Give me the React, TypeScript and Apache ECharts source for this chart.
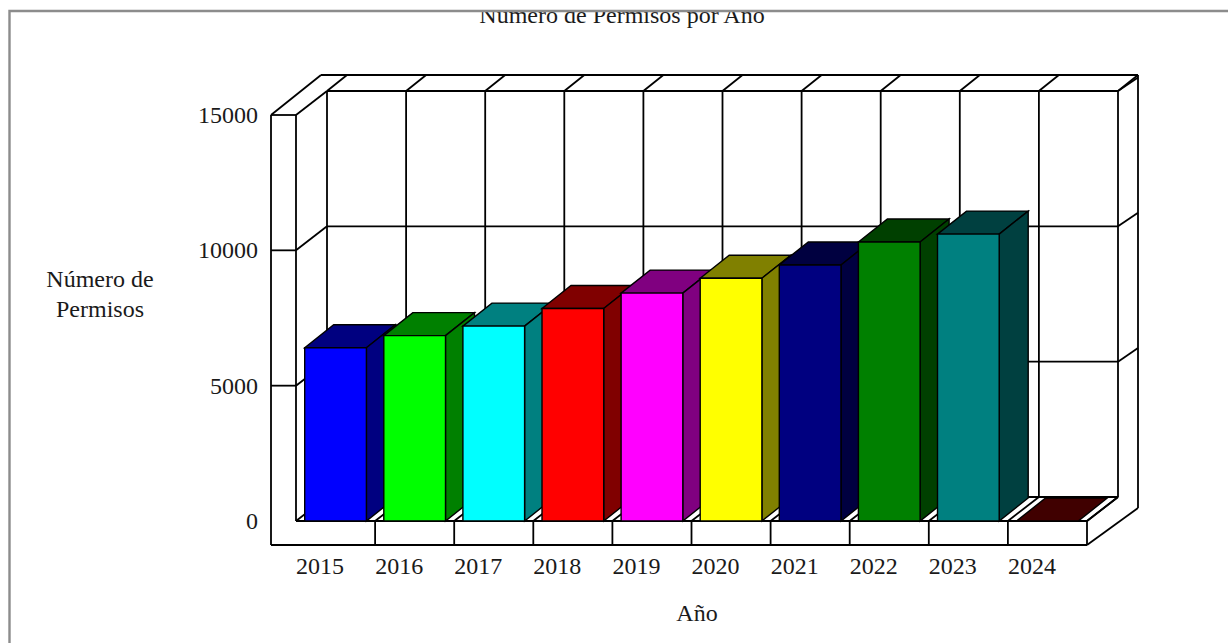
import React, { useEffect, useRef } from "react";
import * as echarts from "echarts";

const years = ["2015", "2016", "2017", "2018", "2019", "2020", "2021", "2022", "2023", "2024"];
const permits = [6400, 6850, 7200, 7850, 8420, 8970, 9460, 10310, 10600, 0];
const frontColors = ["#0000ff", "#00ff00", "#00ffff", "#ff0000", "#ff00ff", "#ffff00", "#000080", "#008000", "#008080", "#800000"];
const shadeColors = ["#000080", "#008000", "#008080", "#800000", "#800080", "#808000", "#000040", "#004000", "#004040", "#400000"];
const yTicks = [0, 5000, 10000, 15000];
const chartTitle = "Número de Permisos por Año";
const yTitle = "Número de\nPermisos";
const xTitle = "Año";

const FONT = "'Liberation Serif', 'Times New Roman', serif";
const INK = "#000";
const TEXT = "#1a1a1a";
const FRAME = "#8c8c8c";
const WALL_DX = 31;
const WALL_DY = -24;
const BAR_DX = 29;
const BAR_DY = -23;
const BACK_DX = 20;
const BACK_DY = -16;
const STRIP_W = 25;

function seg(x1: number, y1: number, x2: number, y2: number) {
  return {
    type: "line",
    shape: { x1, y1, x2, y2 },
    style: { stroke: INK, lineWidth: 1.8, fill: "none" },
  };
}

function renderFrame(_: any, api: any) {
  const band = api.size([1, 0])[0];
  const left = api.coord([0, 0])[0] - band / 2;
  const right = left + band * years.length;
  const y0 = api.coord([0, 0])[1];
  const yMax = api.coord([0, yTicks[yTicks.length - 1]])[1];
  const stripX = left - STRIP_W;
  const stripBottom = y0 - WALL_DY;
  const outerLeft = left + WALL_DX + BACK_DX - STRIP_W - 1;
  const backLeft = left + WALL_DX;
  const backRight = right + WALL_DX;
  const outerRight = backRight + BACK_DX;
  const outerTop = yMax + WALL_DY + BACK_DY;
  const children: any[] = [];

  // outer walls, strips and floor
  children.push(seg(stripX, yMax, stripX, stripBottom));
  children.push(seg(left, yMax, left, y0));
  children.push(seg(stripX, stripBottom, right, stripBottom));
  children.push(seg(left, y0, right, y0));
  children.push(seg(stripX, yMax, outerLeft, outerTop));
  children.push(seg(outerLeft, outerTop, outerRight, outerTop));
  children.push(seg(outerRight, outerTop, outerRight, y0 + WALL_DY + 11));
  children.push(seg(right, stripBottom, outerRight, y0 + WALL_DY + 11));
  children.push(seg(right, y0, backRight, y0 + WALL_DY));

  // vertical divisions
  for (let i = 0; i <= years.length; i++) {
    const x = left + band * i;
    const bx = x + WALL_DX;
    children.push(seg(bx, yMax + WALL_DY, bx, y0 + WALL_DY));
    children.push(seg(bx, yMax + WALL_DY, bx + BACK_DX, outerTop));
    children.push(seg(x, y0, bx, y0 + WALL_DY));
    if (i > 0) children.push(seg(x, y0, x, stripBottom));
  }

  // horizontal divisions
  yTicks.forEach((t) => {
    const y = api.coord([0, t])[1];
    if (t > 0) {
      children.push(seg(stripX, y, left, y));
      children.push(seg(left, y, backLeft, y + WALL_DY));
      children.push(seg(backRight, y + WALL_DY, outerRight, y + WALL_DY + BACK_DY * 0.85));
    }
    children.push(seg(backLeft, y + WALL_DY, backRight, y + WALL_DY));
  });

  return { type: "group", children };
}

function renderBar(params: any, api: any) {
  const i = params.dataIndex;
  const x = api.coord([api.value(0), 0])[0];
  const w = api.size([1, 0])[0] * 0.78;
  const top = api.coord([api.value(0), api.value(1)])[1];
  const base = api.coord([api.value(0), 0])[1];
  const l = x - w / 2;
  const r = x + w / 2;
  const outline = { stroke: INK, lineWidth: 1.4 };
  const children: any[] = [];
  children.push({
    type: "polygon",
    shape: { points: [[l, top], [r, top], [r + BAR_DX, top + BAR_DY], [l + BAR_DX, top + BAR_DY]] },
    style: { fill: shadeColors[i], ...outline },
  });
  if (base - top > 0.5) {
    children.push({
      type: "polygon",
      shape: { points: [[r, top], [r + BAR_DX, top + BAR_DY], [r + BAR_DX, base + BAR_DY], [r, base]] },
      style: { fill: shadeColors[i], ...outline },
    });
    children.push({
      type: "rect",
      shape: { x: l, y: top, width: w, height: base - top },
      style: { fill: frontColors[i], ...outline },
    });
  }
  return { type: "group", children };
}

export default function App() {
  const ref = useRef<HTMLDivElement>(null);
  useEffect(() => {
    const chart = echarts.init(ref.current!, undefined, { renderer: "svg" });
    const textBase = { fontFamily: FONT, fontWeight: "normal" as const, fontSize: 24, color: TEXT };
    chart.setOption({
      animation: false,
      backgroundColor: "#fff",
      title: [
        { text: chartTitle, left: 617, top: -2, textAlign: "center", textStyle: textBase },
        { text: yTitle, left: 95, top: 259, textAlign: "center", textStyle: { ...textBase, lineHeight: 30 } },
        { text: xTitle, left: 692, top: 596, textAlign: "center", textStyle: textBase },
      ],
      grid: { left: 296, right: 141, top: 115, bottom: 122, containLabel: false },
      xAxis: {
        type: "category",
        data: years,
        axisLine: { show: false },
        axisTick: { show: false },
        splitLine: { show: false },
        axisLabel: {
          interval: 0,
          margin: 33,
          padding: [0, 31, 0, 0],
          fontFamily: FONT,
          fontSize: 24,
          color: TEXT,
        },
      },
      yAxis: {
        type: "value",
        min: 0,
        max: 15000,
        interval: 5000,
        axisLine: { show: false },
        axisTick: { show: false },
        splitLine: { show: false },
        axisLabel: {
          margin: 38,
          padding: [0, 0, 7, 0],
          fontFamily: FONT,
          fontSize: 24,
          color: TEXT,
          formatter: (v: number) => String(v),
        },
      },
      graphic: [
        { type: "rect", z: 100, shape: { x: 0, y: 0, width: 1228, height: 11 }, style: { fill: "#fff" } },
        {
          type: "polyline",
          z: 101,
          shape: { points: [[9.5, 643], [9.5, 11], [1228, 11]] },
          style: { fill: "none", stroke: FRAME, lineWidth: 2.4 },
        },
      ],
      series: [
        { type: "custom", renderItem: renderFrame, data: [[0, 0]], silent: true, z: 2 },
        { type: "custom", renderItem: renderBar, data: permits.map((v, i) => [i, v]), silent: true, z: 3 },
      ],
    });
    return () => chart.dispose();
  }, []);
  return <div ref={ref} style={{ position: "fixed", left: 0, top: 0, width: 1228, height: 643 }} />;
}
